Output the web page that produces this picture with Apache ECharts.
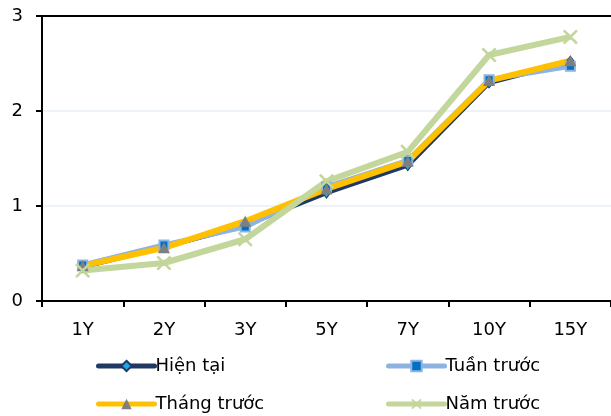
<!DOCTYPE html>
<html>
<head>
<meta charset="utf-8">
<script src="https://cdn.jsdelivr.net/npm/echarts@6/dist/echarts.min.js"></script>
<style>
  html, body { margin: 0; padding: 0; background: #fff; }
  #chart { width: 611px; height: 416px; }
</style>
</head>
<body>
<div id="chart"></div>
<script>
// Tenors on the curve
const tenors = ['1Y', '2Y', '3Y', '5Y', '7Y', '10Y', '15Y'];

// Yield curve snapshots (%)
const hienTai   = [0.36, 0.57, 0.80, 1.14, 1.43, 2.30, 2.52];
const tuanTruoc = [0.38, 0.59, 0.78, 1.20, 1.48, 2.33, 2.47];
const thangTruoc = [0.37, 0.56, 0.84, 1.18, 1.47, 2.32, 2.53];
const namTruoc  = [0.32, 0.40, 0.65, 1.26, 1.57, 2.59, 2.78];

const seriesNames = ['Hiện tại', 'Tuần trước', 'Tháng trước', 'Năm trước'];
const yTicks = [0, 1, 2, 3];

const FONT = 'DejaVu Sans';
const crossPath = 'path://M0,1.2L1.2,0L5,3.8L8.8,0L10,1.2L6.2,5L10,8.8L8.8,10L5,6.2L1.2,10L0,8.8L3.8,5Z';

const chart = echarts.init(document.getElementById('chart'), null, { renderer: 'canvas' });

function legendAt(name, left, top) {
  return {
    data: [name],
    left: left,
    top: top,
    orient: 'horizontal',
    itemWidth: 56,
    itemHeight: 13,
    itemGap: 0,
    padding: 0,
    lineStyle: { width: 5, cap: 'round' },
    textStyle: { fontFamily: FONT, fontSize: 18, color: '#000', padding: [0, 0, 0, -4] },
    selectedMode: false
  };
}

chart.setOption({
  animation: false,
  backgroundColor: '#fff',
  grid: { left: 42, top: 16, right: -4, bottom: 115, containLabel: false },
  legend: [
    legendAt(seriesNames[0], 96, 357),
    legendAt(seriesNames[1], 386, 357),
    legendAt(seriesNames[2], 96, 395),
    legendAt(seriesNames[3], 386, 395)
  ],
  xAxis: [
    {
      type: 'category',
      data: tenors,
      boundaryGap: true,
      axisLine: { lineStyle: { color: '#000', width: 2 } },
      axisTick: { show: true, length: 6, lineStyle: { color: '#000', width: 2 }, alignWithLabel: false },
      axisLabel: { fontFamily: FONT, fontSize: 18, color: '#000', margin: 20 },
      splitLine: { show: false }
    },
    {
      // frame line along the top of the plot
      type: 'category',
      data: tenors,
      position: 'top',
      axisLine: { lineStyle: { color: '#000', width: 2 } },
      axisTick: { show: false },
      axisLabel: { show: false },
      splitLine: { show: false }
    }
  ],
  yAxis: {
    type: 'value',
    min: yTicks[0],
    max: yTicks[yTicks.length - 1],
    interval: 1,
    axisLine: { show: true, lineStyle: { color: '#000', width: 2 } },
    axisTick: { show: true, length: 6, lineStyle: { color: '#000', width: 2 } },
    axisLabel: { fontFamily: FONT, fontSize: 18, color: '#000', margin: 19 },
    splitLine: { show: true, lineStyle: { color: '#eef3fa', width: 2 } }
  },
  series: [
    {
      name: seriesNames[0],
      type: 'line',
      data: hienTai,
      symbol: 'diamond',
      symbolSize: [8, 11],
      lineStyle: { color: '#1f3864', width: 5 },
      itemStyle: { color: '#1ea7e8', borderColor: '#1f3864', borderWidth: 1 }
    },
    {
      name: seriesNames[1],
      type: 'line',
      data: tuanTruoc,
      symbol: 'rect',
      symbolSize: 9,
      lineStyle: { color: '#8db3e2', width: 5 },
      itemStyle: { color: '#0070c0', borderColor: '#8db3e2', borderWidth: 2 }
    },
    {
      name: seriesNames[2],
      type: 'line',
      data: thangTruoc,
      symbol: 'triangle',
      symbolSize: [12, 11],
      lineStyle: { color: '#ffc000', width: 6 },
      itemStyle: { color: '#7f7f7f', borderWidth: 0 }
    },
    {
      name: seriesNames[3],
      type: 'line',
      data: namTruoc,
      symbol: crossPath,
      symbolSize: 15,
      lineStyle: { color: '#c3d69b', width: 6 },
      itemStyle: { color: '#c3d69b', borderWidth: 0 }
    }
  ]
});
</script>
</body>
</html>
